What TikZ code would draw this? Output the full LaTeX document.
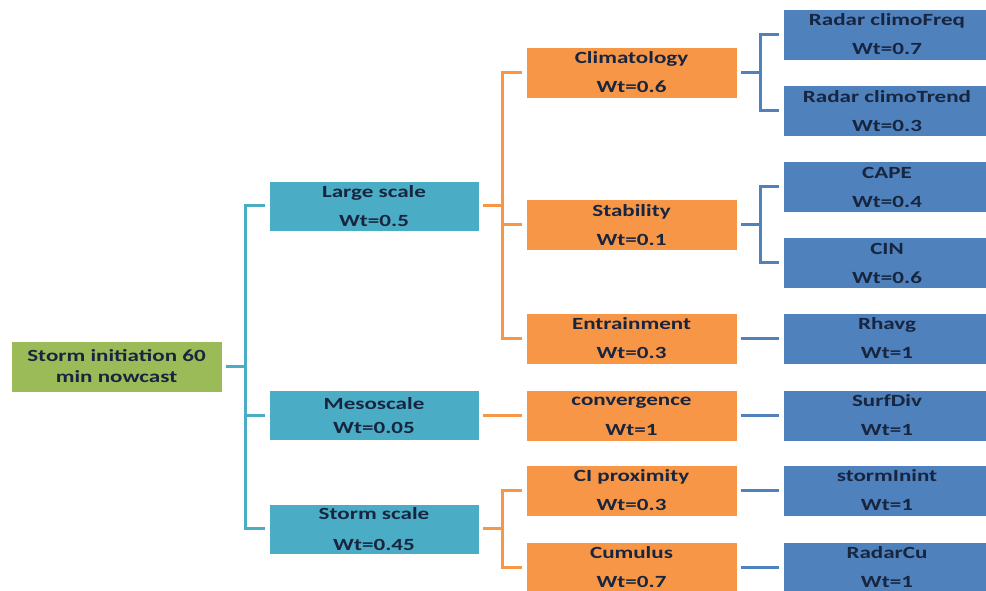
\documentclass[tikz,border=0pt]{standalone}
\usepackage{fontspec}
\setmainfont{Carlito}[FakeStretch=1.35]
\definecolor{cgreen}{HTML}{9BBB59}
\definecolor{cteal}{HTML}{4BACC6}
\definecolor{corange}{HTML}{F79646}
\definecolor{cblue}{HTML}{4F81BD}
\definecolor{ctext}{HTML}{18253F}
\tikzset{
  px/.style={x=0.75pt,y=-0.75pt},
  box/.style={draw=white,line width=0.5pt,inner sep=0pt,outer sep=0pt,align=center,
    text=ctext,font=\bfseries\fontsize{12.8}{21.75}\selectfont},
  rootbox/.style={box,fill=cgreen,minimum width=158.25pt,minimum height=38.25pt,
    font=\bfseries\fontsize{12.8}{15.75}\selectfont},
  tealbox/.style={box,fill=cteal,minimum width=157.5pt,minimum height=37.5pt},
  orangebox/.style={box,fill=corange,minimum width=158.25pt,minimum height=38.25pt},
  bluebox/.style={box,fill=cblue,minimum width=156pt,minimum height=38.25pt},
  conn/.style={line width=2.25pt,line cap=butt,line join=miter},
  tline/.style={conn,draw=cteal},
  oline/.style={conn,draw=corange},
  bline/.style={conn,draw=cblue}
}
\newcommand{\cs}{\vphantom{A}}
\begin{document}
\begin{tikzpicture}[px]
\clip (0,0) rectangle (986,591);
\fill[white] (0,0) rectangle (986,591);
% root
\node[rootbox] (root) at (116.5,366.5) {\cs Storm initiation 60\\min nowcast};
% level 1
\node[tealbox] (ls) at (374,206) {\cs Large scale\\Wt=0.5};
\node[tealbox,font=\bfseries\fontsize{12.8}{18}\selectfont] (ms) at (374,415.5) {\cs Mesoscale\\Wt=0.05};
\node[tealbox,font=\bfseries\fontsize{12.8}{23}\selectfont] (ss) at (374,529) {\cs Storm scale\\Wt=0.45};
% level 2
\node[orangebox] (clim) at (631.5,72.5) {\cs Climatology\\Wt=0.6};
\node[orangebox] (stab) at (631.5,225) {\cs Stability\\Wt=0.1};
\node[orangebox] (entr) at (631.5,338.5) {\cs Entrainment\\Wt=0.3};
\node[orangebox,font=\bfseries\fontsize{12.8}{22.5}\selectfont] (conv) at (631.5,415.5) {\cs convergence\\Wt=1};
\node[orangebox] (cip) at (631.5,490.5) {\cs CI proximity\\Wt=0.3};
\node[orangebox] (cum) at (631.5,567.5) {\cs Cumulus\\Wt=0.7};
% level 3
\node[bluebox] (rcf) at (887,34.5) {\cs Radar climoFreq\\Wt=0.7};
\node[bluebox] (rct) at (887,111) {\cs Radar climoTrend\\Wt=0.3};
\node[bluebox] (cape) at (887,187) {\cs CAPE\\Wt=0.4};
\node[bluebox] (cin) at (887,263) {\cs CIN\\Wt=0.6};
\node[bluebox] (rh) at (887,338.5) {\cs Rhavg\\Wt=1};
\node[bluebox] (sd) at (887,415.5) {\cs SurfDiv\\Wt=1};
\node[bluebox] (si) at (887,490.5) {\cs stormInint\\Wt=1};
\node[bluebox] (rc) at (887,567.5) {\cs RadarCu\\Wt=1};
% bus coordinates
\coordinate (tb) at (245,0);
\coordinate (ob) at (502.5,0);
\coordinate (bb) at (760,0);
% teal connectors
\draw[tline] ([xshift=3pt]root.east) -- (root.east -| tb);
\draw[tline] ([xshift=-3pt]ls.west) -| (tb |- ss.west) -- ([xshift=-3pt]ss.west);
\draw[tline] ([xshift=-3pt]ms.west) -- (ms.west -| tb);
% orange connectors
\draw[oline] ([xshift=3pt]ls.east) -- (ls.east -| ob);
\draw[oline] ([xshift=-3pt]clim.west) -| (ob |- entr.west) -- ([xshift=-3pt]entr.west);
\draw[oline] ([xshift=-3pt]stab.west) -- (stab.west -| ob);
\draw[oline] ([xshift=3pt]ms.east) -- ([xshift=-3pt]ms.east -| conv.west);
\draw[oline] ([xshift=3pt]ss.east) -- (ss.east -| ob);
\draw[oline] ([xshift=-3pt]cip.west) -| (ob |- cum.west) -- ([xshift=-3pt]cum.west);
% blue connectors
\draw[bline] ([xshift=3pt]clim.east) -- (clim.east -| bb);
\draw[bline] ([xshift=-3pt]rcf.west) -| (bb |- rct.west) -- ([xshift=-3pt]rct.west);
\draw[bline] ([xshift=3pt]stab.east) -- (stab.east -| bb);
\draw[bline] ([xshift=-3pt]cape.west) -| (bb |- cin.west) -- ([xshift=-3pt]cin.west);
\draw[bline] ([xshift=3pt]entr.east) -- ([xshift=-3pt]entr.east -| rh.west);
\draw[bline] ([xshift=3pt]conv.east) -- ([xshift=-3pt]conv.east -| sd.west);
\draw[bline] ([xshift=3pt]cip.east) -- ([xshift=-3pt]cip.east -| si.west);
\draw[bline] ([xshift=3pt]cum.east) -- ([xshift=-3pt]cum.east -| rc.west);
\end{tikzpicture}
\end{document}
